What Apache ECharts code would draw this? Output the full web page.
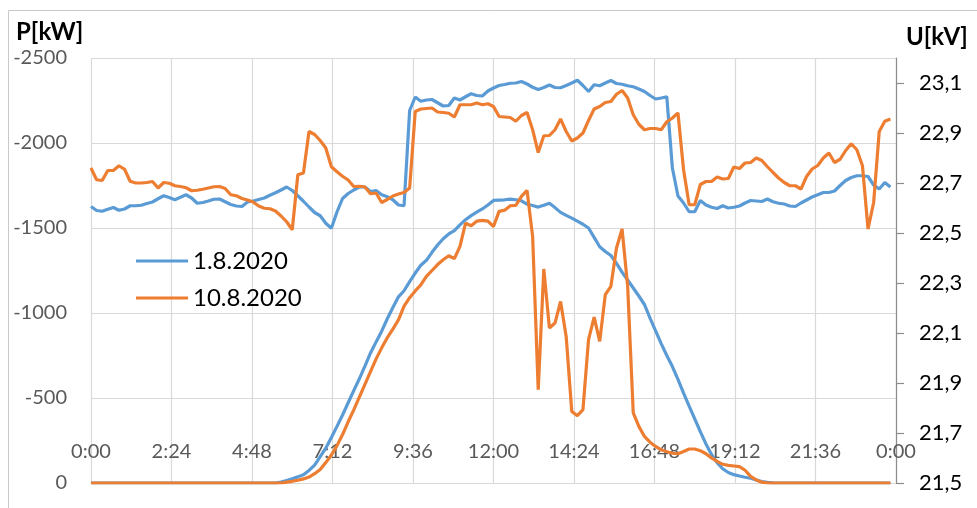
<!DOCTYPE html>
<html><head><meta charset="utf-8">
<script src="https://cdn.jsdelivr.net/npm/echarts@6/dist/echarts.min.js"></script>
<style>html,body{margin:0;padding:0;background:#fff}#c{width:977px;height:508px}</style>
</head><body><div id="c"></div>
<script>
// ---- data (10-minute samples, 0:00 .. 23:50) ----
const seriesNames = ['1.8.2020', '10.8.2020'];
const timeMinutes = Array.from({length: 144}, (_, i) => i * 10);
const xTicks = ['0:00','2:24','4:48','7:12','9:36','12:00','14:24','16:48','19:12','21:36','0:00'];

// P [kW], 1.8.2020
const p1 = [
  0,0,0,0,0,0,  0,0,0,0,0,0,  0,0,0,0,0,0,  0,0,0,0,0,0,  0,0,0,0,0,0,
  0,0,0,0,-5,-15,
  -25,-36,-49,-74,-105,-155,
  -205,-268,-333,-400,-472,-543,
  -613,-688,-765,-830,-893,-966,
  -1032,-1095,-1131,-1185,-1235,-1281,
  -1310,-1357,-1400,-1437,-1465,-1485,
  -1518,-1549,-1573,-1593,-1612,-1635,
  -1662,-1664,-1666,-1670,-1666,-1660,
  -1640,-1632,-1623,-1634,-1645,-1620,
  -1592,-1574,-1558,-1540,-1522,-1500,
  -1445,-1390,-1362,-1338,-1292,-1240,
  -1194,-1147,-1100,-1050,-970,-895,
  -820,-750,-685,-610,-529,-452,
  -377,-302,-230,-168,-120,-84,
  -62,-49,-41,-34,-28,-18,
  -8,-4,-1,0,0,0,
  0,0,0,0,0,0,  0,0,0,0,0,0,  0,0,0,0,0,0
];
// P [kW], 10.8.2020
const p2 = [
  0,0,0,0,0,0,  0,0,0,0,0,0,  0,0,0,0,0,0,  0,0,0,0,0,0,  0,0,0,0,0,0,
  0,0,0,0,0,-5,
  -10,-16,-24,-35,-55,-80,
  -120,-165,-220,-285,-360,-430,
  -505,-580,-655,-730,-795,-855,
  -905,-960,-1040,-1090,-1130,-1165,
  -1215,-1250,-1285,-1313,-1337,-1320,
  -1392,-1529,-1513,-1540,-1545,-1540,
  -1509,-1598,-1605,-1631,-1633,-1686,
  -1721,-1451,-549,-1259,-912,-941,
  -1068,-862,-421,-396,-431,-843,
  -976,-833,-1108,-1157,-1382,-1494,
  -1157,-412,-333,-274,-240,-215,
  -195,-184,-175,-172,-185,-200,
  -200,-190,-172,-148,-127,-110,
  -104,-100,-96,-75,-39,-18,
  -5,0,0,0,0,0,
  0,0,0,0,0,0,  0,0,0,0,0,0,  0,0,0,0,0,0
];
// U [kV], 1.8.2020
const u1 = [
  22.606,22.590,22.587,22.595,22.602,22.591,
  22.596,22.609,22.609,22.611,22.618,22.624,
  22.637,22.649,22.642,22.633,22.643,22.653,
  22.640,22.619,22.622,22.628,22.635,22.636,
  22.625,22.614,22.608,22.606,22.624,22.628,
  22.634,22.640,22.651,22.661,22.672,22.684,
  22.670,22.649,22.627,22.604,22.582,22.569,
  22.539,22.519,22.584,22.638,22.658,22.672,
  22.684,22.684,22.666,22.670,22.653,22.645,
  22.633,22.612,22.609,22.990,23.044,23.027,
  23.032,23.034,23.021,23.008,23.010,23.040,
  23.032,23.045,23.057,23.050,23.048,23.068,
  23.080,23.090,23.094,23.099,23.100,23.106,
  23.096,23.083,23.074,23.082,23.092,23.082,
  23.081,23.090,23.100,23.111,23.090,23.066,
  23.093,23.089,23.100,23.110,23.098,23.095,
  23.089,23.085,23.076,23.066,23.050,23.036,
  23.040,23.045,22.760,22.648,22.620,22.585,
  22.585,22.630,22.612,22.603,22.598,22.609,
  22.600,22.603,22.608,22.620,22.630,22.628,
  22.626,22.636,22.625,22.619,22.616,22.608,
  22.606,22.620,22.632,22.644,22.653,22.662,
  22.662,22.668,22.690,22.710,22.722,22.729,
  22.729,22.726,22.692,22.676,22.702,22.684
];
// U [kV], 10.8.2020
const u2 = [
  22.760,22.713,22.710,22.750,22.750,22.769,
  22.755,22.707,22.700,22.700,22.702,22.706,
  22.680,22.702,22.699,22.689,22.686,22.681,
  22.669,22.671,22.675,22.680,22.685,22.686,
  22.678,22.653,22.649,22.638,22.632,22.624,
  22.608,22.599,22.597,22.588,22.568,22.545,
  22.513,22.733,22.740,22.906,22.894,22.870,
  22.840,22.765,22.745,22.727,22.712,22.686,
  22.687,22.684,22.657,22.660,22.622,22.634,
  22.648,22.656,22.662,22.680,22.986,22.996,
  22.998,23.000,22.984,22.982,22.979,22.964,
  23.013,23.013,23.013,23.020,23.013,23.017,
  23.006,22.966,22.964,22.962,22.947,22.970,
  22.982,22.913,22.822,22.889,22.890,22.913,
  22.956,22.906,22.868,22.880,22.900,22.950,
  22.996,23.006,23.022,23.026,23.055,23.070,
  23.040,22.973,22.935,22.913,22.918,22.918,
  22.913,22.945,22.960,22.980,22.753,22.613,
  22.613,22.694,22.706,22.706,22.724,22.716,
  22.718,22.764,22.758,22.780,22.782,22.800,
  22.790,22.765,22.742,22.720,22.702,22.689,
  22.689,22.676,22.726,22.756,22.770,22.800,
  22.820,22.782,22.795,22.830,22.857,22.833,
  22.769,22.516,22.622,22.906,22.947,22.956
];

const colors = ['#5B9BD5', '#ED7D31'];
const FONT = 'Lato, "Liberation Sans", sans-serif';
const pair = arr => arr.map((v, i) => [timeMinutes[i], v]);
function fmtTime(v) {
  const idx = Math.round(v / 144);
  return xTicks[idx] !== undefined ? xTicks[idx] : '';
}
function lineSeries(name, data, axis, color) {
  return {
    name, type: 'line', yAxisIndex: axis, data: pair(data),
    symbol: 'none', showSymbol: false, smooth: false,
    lineStyle: {width: 3.2, color}, itemStyle: {color},
    emphasis: {disabled: true}, animation: false
  };
}

const chart = echarts.init(document.getElementById('c'), null, {renderer: 'canvas'});
chart.setOption({
  animation: false,
  textStyle: {fontFamily: FONT},
  graphic: [{
    type: 'rect', silent: true, z: -10,
    shape: {x: 8.5, y: 10.5, width: 1000, height: 600},
    style: {fill: 'none', stroke: '#c8c8c8', lineWidth: 1}
  }],
  title: [
    {text: 'P[kW]', left: 16, top: 20, padding: 0,
     textStyle: {fontFamily: FONT, fontSize: 24, fontWeight: 'bold', color: '#000'}},
    {text: 'U[kV]', left: 906, top: 25, padding: 0,
     textStyle: {fontFamily: FONT, fontSize: 24, fontWeight: 'bold', color: '#000'}}
  ],
  legend: {
    orient: 'vertical', left: 136, top: 249, padding: 0,
    icon: 'rect', itemWidth: 52, itemHeight: 3, itemGap: 13,
    textStyle: {fontFamily: FONT, fontSize: 24, color: '#000'},
    data: seriesNames
  },
  grid: {left: 91, right: 81, top: 58, bottom: 25, containLabel: false},
  xAxis: {
    type: 'value', min: 0, max: 1440, interval: 144,
    axisLine: {show: false}, axisTick: {show: false},
    splitLine: {show: true, lineStyle: {color: '#d9d9d9', width: 1.2}},
    axisLabel: {formatter: fmtTime, color: '#595959', fontSize: 20, fontFamily: FONT,
      margin: -31, verticalAlign: 'middle', showMinLabel: true, showMaxLabel: true}
  },
  yAxis: [
    {
      type: 'value', min: -2500, max: 0, interval: 500, inverse: true, position: 'left',
      axisLine: {show: false}, axisTick: {show: false},
      splitLine: {show: true, lineStyle: {color: '#d9d9d9', width: 1.2}},
      axisLabel: {color: '#595959', fontSize: 20, fontFamily: FONT, margin: 24,
        formatter: v => String(v)}
    },
    {
      type: 'value', min: 21.5, max: 23.2, interval: 0.2, position: 'right',
      splitLine: {show: false},
      axisLine: {show: true, lineStyle: {color: '#8c8c8c', width: 1.2}},
      axisTick: {show: true, inside: false, length: 8, lineStyle: {color: '#8c8c8c', width: 1.2}},
      axisLabel: {color: '#000', fontSize: 22, fontFamily: FONT, margin: 23, showMaxLabel: false,
        formatter: v => Number(v).toFixed(1).replace('.', ',')}
    }
  ],
  series: [
    lineSeries(seriesNames[0], p1, 0, colors[0]),
    lineSeries(seriesNames[1], p2, 0, colors[1]),
    lineSeries(seriesNames[0], u1, 1, colors[0]),
    lineSeries(seriesNames[1], u2, 1, colors[1])
  ]
});
</script>
</body></html>
